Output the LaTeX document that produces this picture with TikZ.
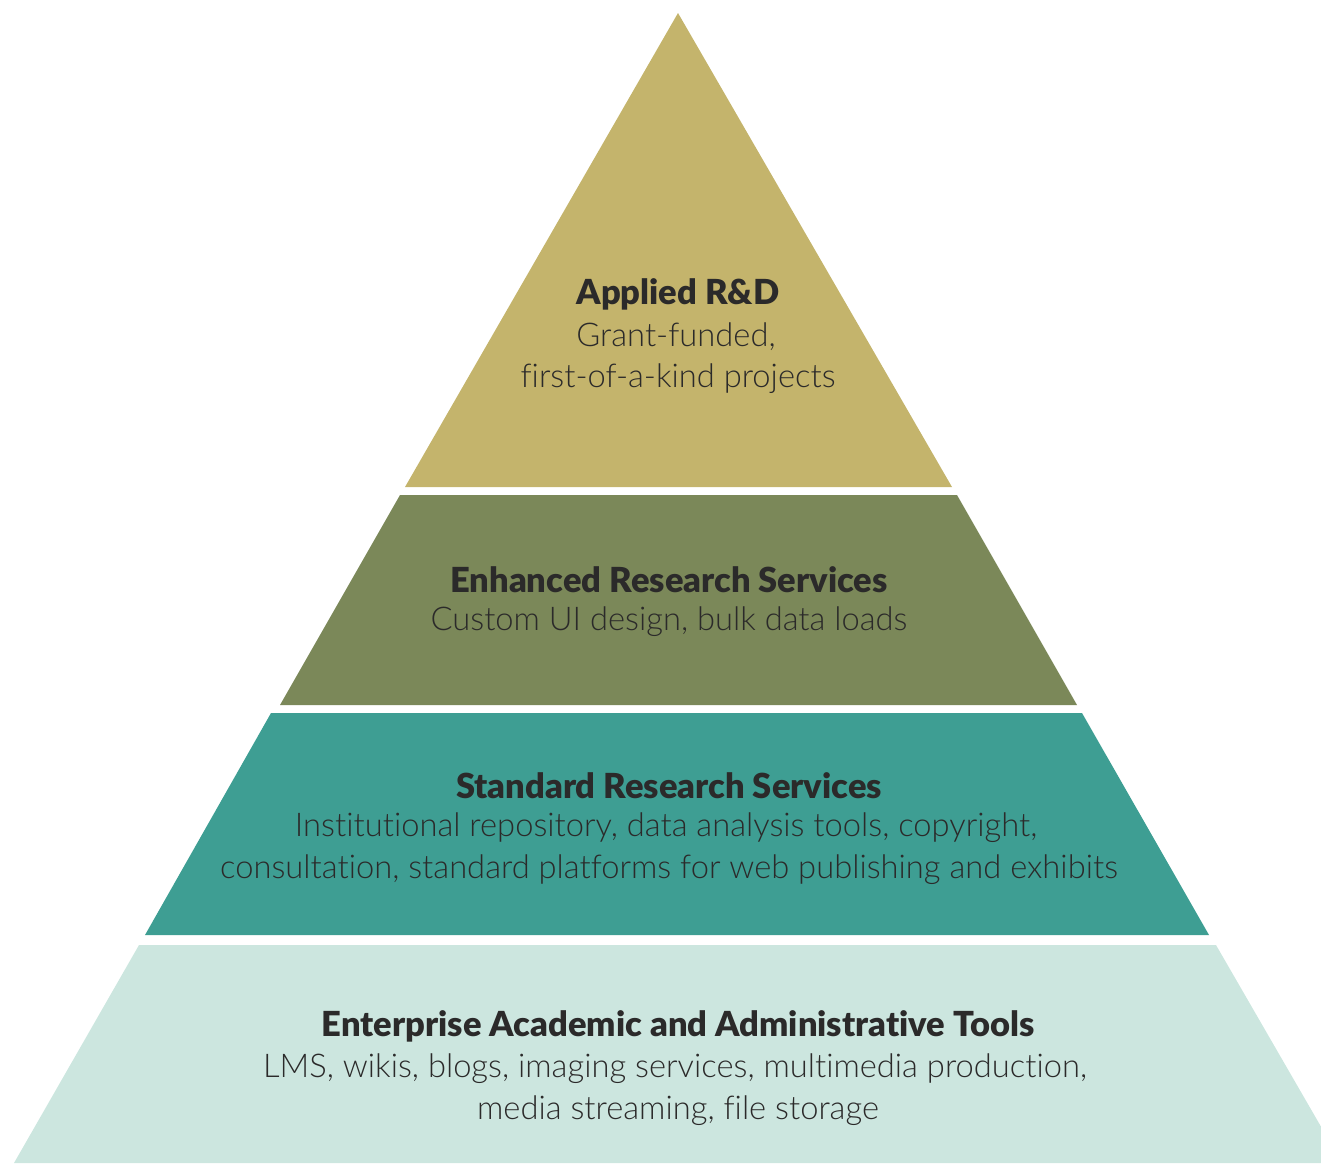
\documentclass[tikz,border=0pt]{standalone}
\usepackage{fontspec}
\newfontfamily\lightfont[Ligatures=NoCommon]{Lato Light}
\newfontfamily\heavyfont[Ligatures=NoCommon]{Lato Black}
\begin{document}
\begin{tikzpicture}[x=1pt,y=-1pt,
  heading/.style={font=\heavyfont\fontsize{34.5}{40}\selectfont, text=textdark, inner sep=0pt},
  body/.style={font=\lightfont\fontsize{32.7}{38}\selectfont, text=textdark, inner sep=0pt}]
\definecolor{tierA}{HTML}{C4B46C}
\definecolor{tierB}{HTML}{7B8859}
\definecolor{tierC}{HTML}{3E9E93}
\definecolor{tierD}{HTML}{CCE6DF}
\definecolor{textdark}{HTML}{2B2A2A}
\useasboundingbox (0,0) rectangle (1321,1163);
\clip (0,0) rectangle (1321,1163);
% pyramid tiers
\fill[tierA] (678,13) -- (952,487) -- (405,487) -- cycle;
\fill[tierB] (400,495) -- (957,495) -- (1077,705) -- (280,705) -- cycle;
\fill[tierC] (271,713) -- (1082,713) -- (1209,935) -- (145,935) -- cycle;
\fill[tierD] (139,945) -- (1216,945) -- (1342,1163) -- (14,1163) -- cycle;
% labels
\node[heading] (t1) at (678,294) {Applied R\&D};
\node[body] (t1a) at (676,337) {Grant-funded,};
\node[body] (t1b) at (678,379) {first-of-a-kind projects};
\node[heading] (t2) at (669,580) {Enhanced Research Services};
\node[body] (t2a) at (669,622) {Custom UI design, bulk data loads};
\node[heading] (t3) at (669,786) {Standard Research Services};
\node[body] (t3a) at (666,828) {Institutional repository, data analysis tools, copyright,};
\node[body] (t3b) at (669,870) {consultation, standard platforms for web publishing and exhibits};
\node[heading] (t4) at (678,1026) {Enterprise Academic and Administrative Tools};
\node[body] (t4a) at (675,1069) {LMS, wikis, blogs, imaging services, multimedia production,};
\node[body] (t4b) at (678,1111) {media streaming, file storage};
\end{tikzpicture}
\end{document}
